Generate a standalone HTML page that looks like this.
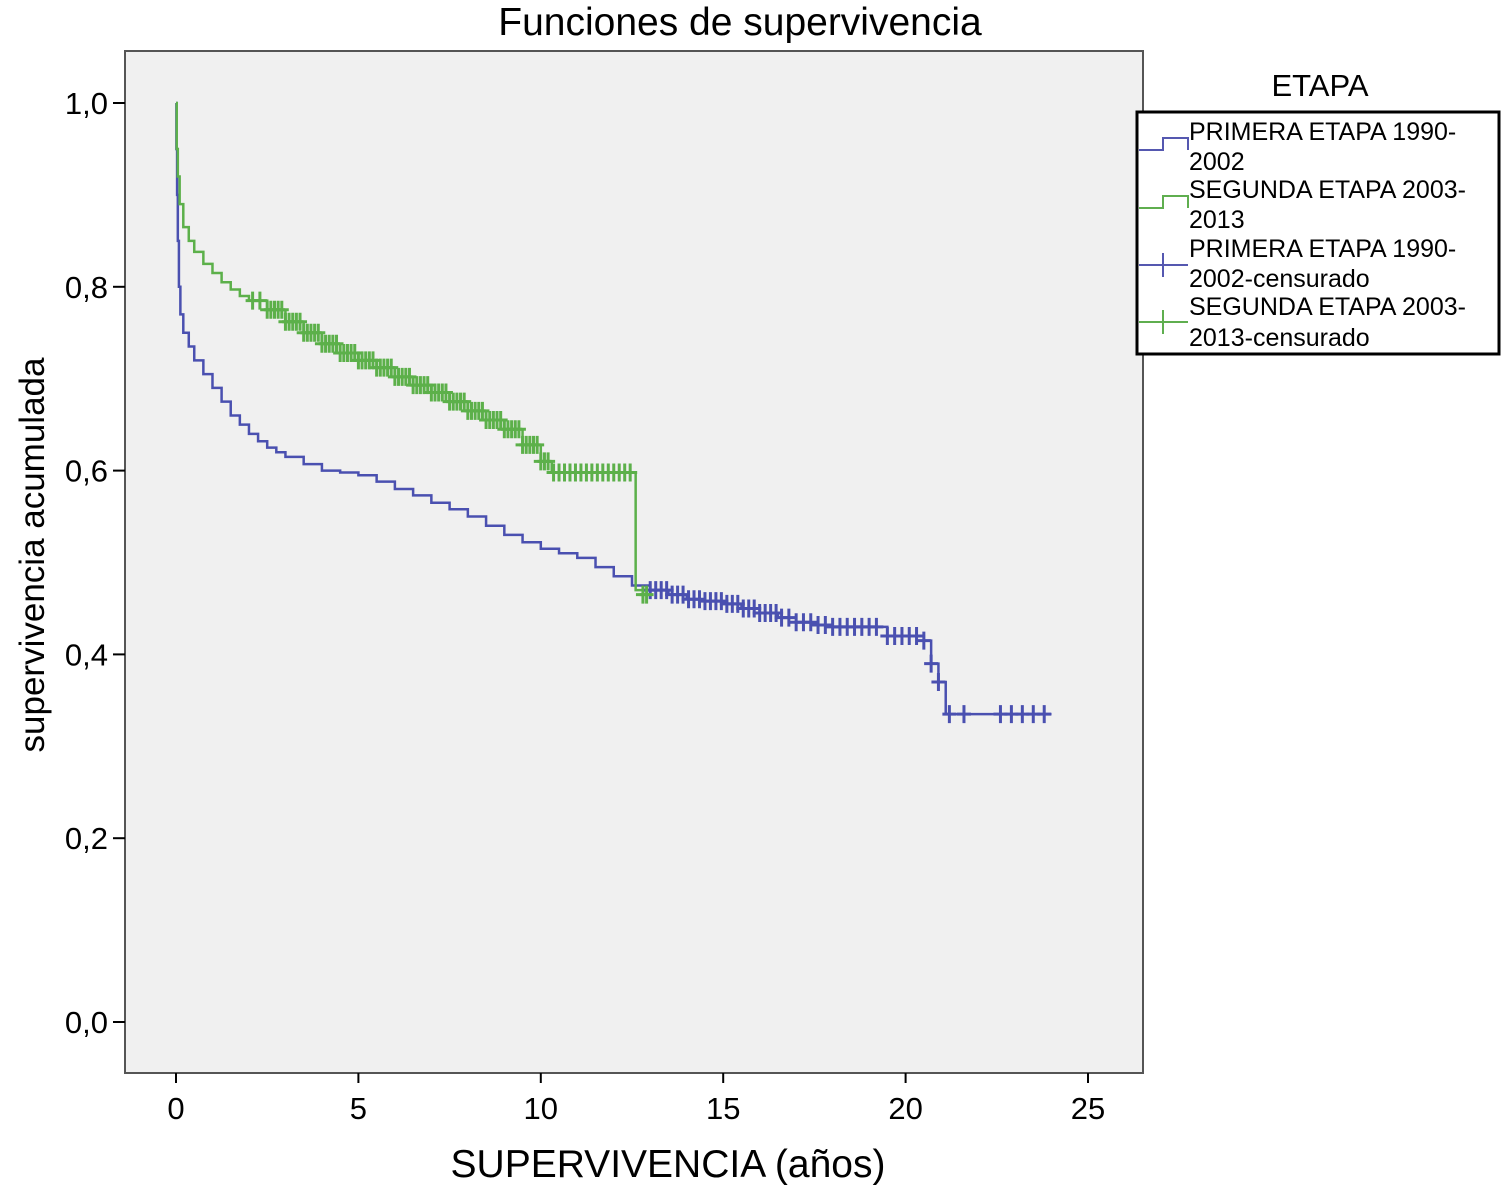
<!DOCTYPE html>
<html><head><meta charset="utf-8"><style>
body{margin:0;background:#fff;}
svg{display:block;font-family:"Liberation Sans",sans-serif;}
</style></head><body>
<svg id="chart" width="1502" height="1185" viewBox="0 0 1502 1185" xmlns="http://www.w3.org/2000/svg">
<text x="740" y="35" font-size="39" text-anchor="middle">Funciones de supervivencia</text>
<rect x="125" y="51" width="1018" height="1022" fill="#f0f0f0" stroke="#555" stroke-width="2"/>
<g id="axes"></g>
<g id="series"></g>
<text transform="translate(44,555) rotate(-90)" font-size="35" text-anchor="middle">supervivencia acumulada</text>
<text x="668" y="1177" font-size="39" text-anchor="middle">SUPERVIVENCIA (años)</text>
<text x="1320" y="96" font-size="31" text-anchor="middle">ETAPA</text>
<g>
<rect x="1137" y="112" width="362" height="242" fill="#fff" stroke="#000" stroke-width="3"/>
<path d="M1139 150 H1163 V138 H1188 V150" fill="none" stroke="#5558b0" stroke-width="2"/>
<path d="M1139 208 H1163 V196 H1188 V208" fill="none" stroke="#5fae4f" stroke-width="2"/>
<path d="M1139 265 H1188 M1163 253 V277" fill="none" stroke="#5558b0" stroke-width="2"/>
<path d="M1139 322 H1188 M1163 310 V334" fill="none" stroke="#5fae4f" stroke-width="2"/>
<g font-size="25">
<text x="1189" y="140">PRIMERA ETAPA 1990-</text>
<text x="1189" y="170">2002</text>
<text x="1189" y="198">SEGUNDA ETAPA 2003-</text>
<text x="1189" y="228">2013</text>
<text x="1189" y="257">PRIMERA ETAPA 1990-</text>
<text x="1189" y="287">2002-censurado</text>
<text x="1189" y="315">SEGUNDA ETAPA 2003-</text>
<text x="1189" y="346">2013-censurado</text>
</g></g>
</svg>
<script>
const xTicks=[0,5,10,15,20,25];
const yTicks=[0,0.2,0.4,0.6,0.8,1.0];
const yTickLabels=["0,0","0,2","0,4","0,6","0,8","1,0"];
const blueT=[0,0.01,0.03,0.05,0.08,0.12,0.2,0.35,0.5,0.75,1,1.25,1.5,1.75,2,2.25,2.5,2.75,3,3.5,4,4.5,5,5.5,6,6.5,7,7.5,8,8.5,9,9.5,10,10.5,11,11.5,12,12.5,13,13.5,14,14.5,15,15.5,16,16.5,17,17.5,18,19,19.5,20.5,20.7,20.9,21.1,24];
const blueS=[1.0,0.95,0.9,0.85,0.8,0.77,0.75,0.735,0.72,0.705,0.69,0.675,0.66,0.65,0.64,0.632,0.625,0.62,0.615,0.607,0.60,0.598,0.595,0.588,0.58,0.573,0.565,0.558,0.55,0.54,0.53,0.522,0.515,0.51,0.505,0.495,0.485,0.475,0.47,0.465,0.46,0.458,0.455,0.45,0.445,0.44,0.435,0.432,0.43,0.43,0.42,0.415,0.39,0.37,0.335,0.335];
const greenT=[0,0.02,0.05,0.1,0.2,0.35,0.5,0.75,1,1.25,1.5,1.75,2,2.5,3,3.5,4,4.5,5,5.5,6,6.5,7,7.5,8,8.5,9,9.5,10,10.3,12.6,12.8];
const greenS=[1.0,0.95,0.92,0.89,0.865,0.85,0.838,0.825,0.815,0.805,0.797,0.79,0.785,0.775,0.762,0.75,0.738,0.728,0.72,0.712,0.702,0.693,0.685,0.675,0.665,0.655,0.645,0.628,0.61,0.598,0.47,0.465];
const blueCens=[13,13.15,13.3,13.45,13.6,13.75,13.9,14.05,14.2,14.35,14.5,14.65,14.8,14.95,15.1,15.25,15.4,15.55,15.7,15.85,16,16.15,16.3,16.45,16.6,16.8,17,17.2,17.4,17.6,17.8,18,18.2,18.4,18.6,18.8,19,19.2,19.5,19.7,19.9,20.1,20.3,20.5,20.7,20.9,21.2,21.6,22.6,22.9,23.2,23.5,23.8];
const greenCens=[2.1,2.3,2.5,2.6,2.7,2.8,2.9,3.0,3.1,3.2,3.3,3.4,3.5,3.6,3.7,3.8,3.9,4.0,4.1,4.2,4.3,4.4,4.5,4.6,4.7,4.8,4.9,5.0,5.1,5.2,5.3,5.4,5.5,5.6,5.7,5.8,5.9,6.0,6.1,6.2,6.3,6.4,6.5,6.6,6.7,6.8,6.9,7.0,7.1,7.2,7.3,7.4,7.5,7.6,7.7,7.8,7.9,8.0,8.1,8.2,8.3,8.4,8.5,8.6,8.7,8.8,8.9,9.0,9.1,9.2,9.3,9.4,9.5,9.6,9.7,9.8,9.9,10.0,10.1,10.2,10.35,10.5,10.65,10.8,10.95,11.1,11.25,11.4,11.55,11.7,11.85,12.0,12.15,12.3,12.45,12.8,12.9];
const X=v=>176+v*36.48, Y=v=>1022-v*919;
const NS="http://www.w3.org/2000/svg";
function mk(t,a,p){const e=document.createElementNS(NS,t);for(const k in a)e.setAttribute(k,a[k]);p.appendChild(e);return e;}
const ax=document.getElementById('axes'), sr=document.getElementById('series');
xTicks.forEach((v,i)=>{mk('line',{x1:X(v),x2:X(v),y1:1073,y2:1083,stroke:'#000','stroke-width':2},ax);
const t=mk('text',{x:X(v),y:1119,'font-size':31,'text-anchor':'middle'},ax);t.textContent=v;

});
yTicks.forEach((v,i)=>{mk('line',{x1:113,x2:125,y1:Y(v),y2:Y(v),stroke:'#000','stroke-width':2},ax);
const t=mk('text',{x:108,y:Y(v)+11,'font-size':31,'text-anchor':'end'},ax);t.textContent=yTickLabels[i];

});
function stepPath(T,S){let d='M'+X(T[0])+' '+Y(S[0]);for(let i=1;i<T.length;i++){d+=' H'+X(T[i])+' V'+Y(S[i]);}return d;}
function sAt(T,S,t){let s=S[0];for(let i=0;i<T.length;i++){if(T[i]<=t)s=S[i];}return s;}
function draw(T,S,C,col,name){
const p=mk('path',{d:stepPath(T,S),fill:'none',stroke:col,'stroke-width':2.5},sr);


const g=mk('g',{stroke:col,'stroke-width':3},sr);


C.forEach(t=>{const x=X(t),y=Y(sAt(T,S,t));mk('path',{d:`M${x-7} ${y} H${x+7} M${x} ${y-9} V${y+9}`},g);});}
draw(blueT,blueS,blueCens,'#4a50b0','primera-etapa');
draw(greenT,greenS,greenCens,'#5cb04a','segunda-etapa');
</script>
</body></html>
